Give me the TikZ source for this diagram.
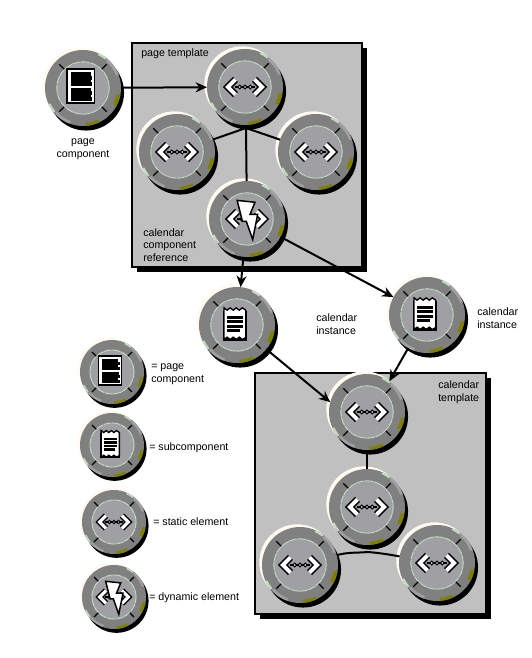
\documentclass[tikz,border=0pt]{standalone}
\usepackage{fontspec}
\setmainfont{Liberation Sans}
\usetikzlibrary{arrows.meta, shadows}
\definecolor{panelgray}{HTML}{C0C0C0}
\definecolor{ringgray}{HTML}{808080}
\definecolor{facegray}{HTML}{A0A0A4}
\definecolor{palegreen}{HTML}{C0DCC0}
\definecolor{cream}{HTML}{FFFBF0}
\definecolor{darkolive}{HTML}{808000}
\tikzset{
  panel/.style={draw=black, line width=.8pt, fill=panelgray, inner sep=0pt,
    drop shadow={shadow xshift=3.75pt, shadow yshift=-3.75pt, opacity=1, fill=black}},
  ring/.style={circle, fill=ringgray, inner sep=0pt, outer sep=0pt},
  link/.style={line width=1.5pt, >={Stealth[length=8.5pt, width=7.5pt]}},
  joint/.style={line width=1.5pt},
  caption/.style={font=\fontsize{8}{9.6}\selectfont, align=left, inner sep=0pt, anchor=west}
}
% name, position, radius, icon
\newcommand{\disc}[4]{
\begin{scope}[shift={#2}, x=#3*.75pt, y=#3*.75pt]
\def\discr{#3}
\fill[black] (.08,-.12) circle (1);
\fill[cream] (-.07,.07) circle (1);
\node (#1) [ring, minimum size=#3*1.5pt] at (0,0) {};
\foreach \c/\a/\b/\i in {palegreen/52/66/.95, facegray/20/50/.93, palegreen/205/220/.95,
    facegray/222/250/.93, darkolive/-28/-10/.9, darkolive/-86/-64/.92}
  \fill[\c] (\a:1) arc (\a:\b:1) -- (\b:\i) arc (\b:\a:\i) -- cycle;
\fill[facegray] (0,0) circle (.69);
\draw[palegreen, line width=.7pt, dash pattern=on 6pt off .6pt] (0,0) circle (.69);
\foreach \a in {45,135,225,315}
  \draw[black, line width=.95pt] (\a:.7) -- (\a:.88);
#4
\end{scope}
}
\newcommand{\staticicon}{
\draw[black, line width=1.4pt] (-.27,0) -- (.27,0);
\foreach \s in {-1,1} {
  \draw[black, line width=\discr*.14pt, miter limit=4] (\s*.25,.2) -- (\s*.45,0) -- (\s*.25,-.2);
  \draw[white, line width=\discr*.075pt] (\s*.25,.2) -- (\s*.45,0) -- (\s*.25,-.2);
}
\foreach \p in {-.14,0,.14}
  \fill[white, draw=black, line width=.8pt] (\p,0) circle (.05);
}
\newcommand{\dynamicicon}{
\staticicon
\fill[white, draw=black, line width=1.1pt] (-.26,.49) -- (.21,.44) -- (.08,.12) -- (.28,.12)
  -- (.15,-.54) -- (-.02,-.06) -- (-.12,-.06) -- cycle;
}
\newcommand{\pageicon}{
\fill[white, draw=black, line width=1.2pt] (-.42,-.4) rectangle (.3,.5);
\foreach \y/\w in {.36/.2, .27/.24, .18/.2, .1/.24, -.04/.22, -.13/.24, -.21/.2, -.29/.24}
  \draw[black, line width=\discr*.075pt] (-.31,\y) -- (\w,\y);
}
\newcommand{\subicon}{
\fill[black] (-.37,-.41) rectangle (.26,.36);
\fill[white, draw=black, line width=1pt] (-.34,.45) -- (-.26,.39) -- (-.18,.45) -- (-.1,.39)
  -- (-.02,.45) -- (.06,.39) -- (.14,.45) -- (.23,.39) -- (.23,-.33) -- (.14,-.38) -- (.06,-.32)
  -- (-.02,-.38) -- (-.1,-.32) -- (-.18,-.38) -- (-.26,-.32) -- (-.34,-.38) -- cycle;
\foreach \y/\w in {.19/.16, .08/.16, -.03/.16, -.14/.08}
  \draw[black, line width=\discr*.06pt] (-.26,\y) -- (\w,\y);
}
\begin{document}
\begin{tikzpicture}[x=.75pt, y=.75pt]
\useasboundingbox (0,0) rectangle (532,658);
\node (T) [panel, minimum width=172.5pt, minimum height=168pt] at (247,503) {};
\node (U) [panel, minimum width=173.25pt, minimum height=180.75pt] at (370.5,164.5) {};

\disc{P}{(83,570)}{38}{\pageicon}
\disc{A}{(245,571)}{38}{\staticicon}
\disc{B}{(177,506)}{38}{\staticicon}
\disc{C}{(316,506)}{38}{\staticicon}
\disc{D}{(247,439)}{38}{\dynamicicon}
\disc{E}{(237,333)}{38}{\subicon}
\disc{F}{(427,343)}{38}{\subicon}
\disc{G}{(367,246)}{38}{\staticicon}
\disc{H}{(367,151)}{38}{\staticicon}
\disc{I}{(300,93)}{38}{\staticicon}
\disc{J}{(437,95)}{38}{\staticicon}
\disc{K}{(112,286)}{32}{\pageicon}
\disc{L}{(112,213)}{32}{\subicon}
\disc{M}{(114,136)}{32}{\staticicon}
\disc{N}{(114,61)}{32}{\dynamicicon}

\coordinate (hubA) at (246,530);
\coordinate (hubB) at (368,106);

\path[->, link] (P) edge (A);
\path[->, link] (D) edge (E);
\path[->, link] (D) edge (F);
\path[->, link] (E) edge (G.165);
\path[->, link] (F) edge (G.54);
\draw[joint] (hubA) -- (B);
\draw[joint] (hubA) -- (C);
\draw[joint] (hubA) -- (D);
\draw[joint] (G) -- (H);
\draw[joint] (hubB) to[out=185, in=15] (I);
\draw[joint] (hubB) to[out=-5, in=170] (J);

\node (t1) [caption, align=center, anchor=center] at (83,509) {page\\component};
\node (t2) [caption] at (141,604) {page template};
\node (t3) [caption] at (143,413) {calendar\\component\\reference};
\node (t4) [caption] at (316,334) {calendar\\instance};
\node (t5) [caption] at (477,340) {calendar\\instance};
\node (t6) [caption] at (438,266) {calendar\\template};
\node (t7) [caption] at (151,284) {= page\\component};
\node (t8) [caption] at (149,210) {= subcomponent};
\node (t9) [caption] at (153,136) {= static element};
\node (t10) [caption] at (149,60) {= dynamic element};
\end{tikzpicture}
\end{document}
